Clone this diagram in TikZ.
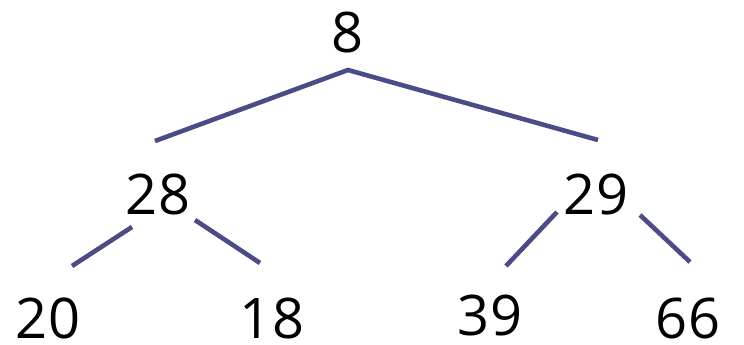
\documentclass[tikz,border=0pt]{standalone}
\usepackage{fontspec}
\setmainfont{Open Sans}
\begin{document}
\begin{tikzpicture}[x=1pt,y=-1pt,
  num/.style={inner sep=0pt,font=\fontsize{56}{60}\selectfont},
  edge/.style={line width=4.6pt,draw=edgecol}]
\definecolor{edgecol}{HTML}{4B4B86}
\useasboundingbox (0,0) rectangle (744,345);
\node[num] (n8) at (348,32) {8};
\node[num] (n28) at (158,194) {28};
\node[num] (n29) at (596,194) {29};
\node[num] (n20) at (48,318) {20};
\node[num] (n18) at (272,318) {18};
\node[num] (n39) at (490,315) {39};
\node[num] (n66) at (688,318) {66};
\coordinate (a8) at (348,70);
\coordinate (t28) at (155,141);
\coordinate (t29) at (598,140);
\coordinate (l28) at (132,227);
\coordinate (r28) at (195,220);
\coordinate (t20) at (72,266);
\coordinate (t18) at (260,263);
\coordinate (l29) at (557,212);
\coordinate (r29) at (640,215);
\coordinate (t39) at (506,266);
\coordinate (t66) at (690,262);
\draw[edge] (t28) -- (a8) -- (t29);
\draw[edge] (l28) -- (t20);
\draw[edge] (r28) -- (t18);
\draw[edge] (l29) -- (t39);
\draw[edge] (r29) -- (t66);
\end{tikzpicture}
\end{document}
